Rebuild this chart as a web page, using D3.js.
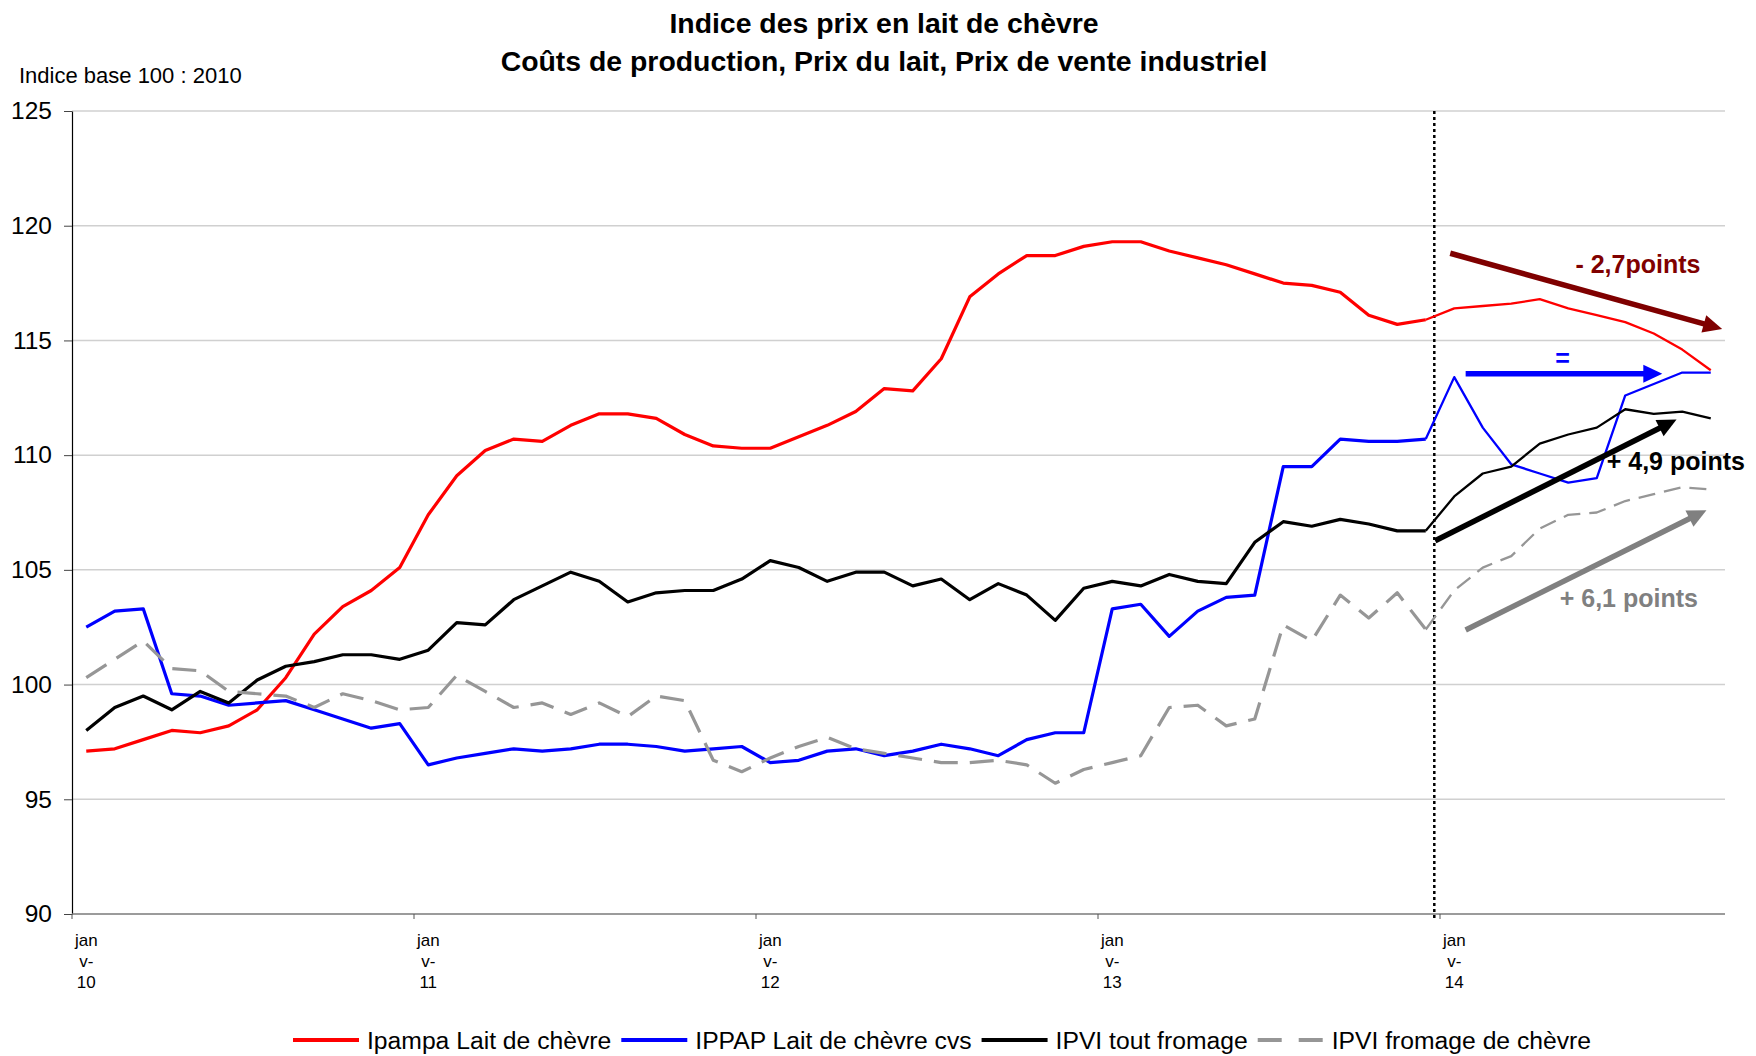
<!DOCTYPE html>
<html>
<head>
<meta charset="utf-8">
<script src="https://cdn.jsdelivr.net/npm/d3@7"></script>
<style>
  body { margin: 0; background: #fff; }
  svg { font-family: Arial, "Liberation Sans", sans-serif; }
</style>
</head>
<body>
<svg id="chart"></svg>
<script>
const svgWidth = 1756;
const svgHeight = 1056;

// months jan 2010 -> oct 2014
const moisAbr = ["janv", "févr", "mars", "avr", "mai", "juin", "juil", "août", "sept", "oct", "nov", "déc"];
const annees = ["10", "11", "12", "13", "14"];
const categories = [];
annees.forEach(a => moisAbr.forEach(m => categories.push(m + "-" + a)));
categories.splice(58);

const tickLabels = ["janv-10", "janv-11", "janv-12", "janv-13", "janv-14"];
const yTicks = [90, 95, 100, 105, 110, 115, 120, 125];

const ipampa = [97.1, 97.2, 97.6, 98.0, 97.9, 98.2, 98.9, 100.3, 102.2, 103.4, 104.1, 105.1,
  107.4, 109.1, 110.2, 110.7, 110.6, 111.3, 111.8, 111.8, 111.6, 110.9, 110.4, 110.3,
  110.3, 110.8, 111.3, 111.9, 112.9, 112.8, 114.2, 116.9, 117.9, 118.7, 118.7, 119.1,
  119.3, 119.3, 118.9, 118.6, 118.3, 117.9, 117.5, 117.4, 117.1, 116.1, 115.7, 115.9,
  116.4, 116.5, 116.6, 116.8, 116.4, 116.1, 115.8, 115.3, 114.6, 113.7];

const ippap = [102.5, 103.2, 103.3, 99.6, 99.5, 99.1, 99.2, 99.3, 98.9, 98.5, 98.1, 98.3,
  96.5, 96.8, 97.0, 97.2, 97.1, 97.2, 97.4, 97.4, 97.3, 97.1, 97.2, 97.3,
  96.6, 96.7, 97.1, 97.2, 96.9, 97.1, 97.4, 97.2, 96.9, 97.6, 97.9, 97.9,
  103.3, 103.5, 102.1, 103.2, 103.8, 103.9, 109.5, 109.5, 110.7, 110.6, 110.6, 110.7,
  113.4, 111.2, 109.6, 109.2, 108.8, 109.0, 112.6, 113.1, 113.6, 113.6];

const ipviTout = [98.0, 99.0, 99.5, 98.9, 99.7, 99.2, 100.2, 100.8, 101.0, 101.3, 101.3, 101.1,
  101.5, 102.7, 102.6, 103.7, 104.3, 104.9, 104.5, 103.6, 104.0, 104.1, 104.1, 104.6,
  105.4, 105.1, 104.5, 104.9, 104.9, 104.3, 104.6, 103.7, 104.4, 103.9, 102.8, 104.2,
  104.5, 104.3, 104.8, 104.5, 104.4, 106.2, 107.1, 106.9, 107.2, 107.0, 106.7, 106.7,
  108.2, 109.2, 109.5, 110.5, 110.9, 111.2, 112.0, 111.8, 111.9, 111.6];

const ipviChevre = [100.3, 101.1, 101.9, 100.7, 100.6, 99.7, 99.6, 99.5, 99.0, 99.6, 99.3, 98.9,
  99.0, 100.4, 99.7, 99.0, 99.2, 98.7, 99.2, 98.6, 99.5, 99.3, 96.7, 96.2,
  96.8, 97.3, 97.7, 97.2, 97.0, 96.8, 96.6, 96.6, 96.7, 96.5, 95.7, 96.3,
  96.6, 96.9, 99.0, 99.1, 98.2, 98.5, 102.6, 101.9, 103.9, 102.9, 104.0, 102.4,
  104.1, 105.1, 105.6, 106.8, 107.4, 107.5, 108.0, 108.3, 108.6, 108.5];

const seriesNames = ["Ipampa Lait de chèvre", "IPPAP Lait de chèvre cvs", "IPVI tout fromage", "IPVI fromage de chèvre"];
const seriesColors = ["#ff0000", "#0000ff", "#000000", "#969696"];
const seriesValues = [ipampa, ippap, ipviTout, ipviChevre];

// annotations : [index start, value start, index end, value end]
const annotArrows = [
  { from: [47.86, 118.8], to: [57.4, 115.5], color: "#7f0000" },
  { from: [48.4, 113.55], to: [55.3, 113.55], color: "#0000ff" },
  { from: [47.33, 106.27], to: [55.8, 111.55], color: "#000000" },
  { from: [48.4, 102.38], to: [56.85, 107.6], color: "#808080" }
];
const annotTexts = [
  { text: "- 2,7points", at: [52.25, 117.94], color: "#800000" },
  { text: "=", at: [51.8, 113.85], color: "#0000ff", anchor: "middle" },
  { text: "+ 4,9 points", at: [53.35, 109.35], color: "#000000" },
  { text: "+ 6,1 points", at: [51.7, 103.4], color: "#808080" }
];

const margin = { top: 111, left: 72, right: 31, bottom: 142 };
const plotW = svgWidth - margin.left - margin.right;
const plotH = svgHeight - margin.top - margin.bottom;

const svg = d3.select("#chart")
  .attr("width", svgWidth)
  .attr("height", svgHeight);

const x = d3.scaleLinear().domain([-0.5, categories.length - 0.5]).range([margin.left, margin.left + plotW]);
const y = d3.scaleLinear().domain([90, 125]).range([margin.top + plotH, margin.top]);

// titles
svg.append("text")
  .attr("x", 884).attr("y", 33)
  .attr("text-anchor", "middle")
  .attr("font-size", 28.4).attr("font-weight", "bold")
  .text("Indice des prix en lait de chèvre");
svg.append("text")
  .attr("x", 884).attr("y", 71)
  .attr("text-anchor", "middle")
  .attr("font-size", 28.4).attr("font-weight", "bold")
  .text("Coûts de production, Prix du lait, Prix de vente industriel");
svg.append("text")
  .attr("x", 19).attr("y", 83)
  .attr("font-size", 22)
  .text("Indice base 100 : 2010");

// gridlines
svg.append("g")
  .selectAll("line")
  .data(yTicks.filter(t => t > 90))
  .join("line")
  .attr("x1", margin.left).attr("x2", margin.left + plotW)
  .attr("y1", d => y(d)).attr("y2", d => y(d))
  .attr("stroke", "#d0d0d0")
  .attr("stroke-width", 1.5);

// y axis
const yAxis = svg.append("g")
  .attr("transform", `translate(${margin.left},0)`)
  .call(d3.axisLeft(y).tickValues(yTicks).tickSize(8).tickPadding(12).tickSizeOuter(0));
yAxis.select(".domain").attr("stroke", "#000").attr("stroke-width", 1.2);
yAxis.selectAll(".tick line").attr("stroke", "#444");
yAxis.selectAll(".tick text")
  .attr("font-size", 24.5)
  .attr("font-family", "Arial, 'Liberation Sans', sans-serif")
  .attr("fill", "#000");

// x axis
const xAxis = svg.append("g")
  .attr("transform", `translate(0,${margin.top + plotH})`);
xAxis.append("line")
  .attr("x1", margin.left).attr("x2", margin.left + plotW)
  .attr("stroke", "#7a7a7a").attr("stroke-width", 1.6);
xAxis.selectAll(".tk")
  .data(tickLabels)
  .join("line")
  .attr("class", "tk")
  .attr("x1", d => x(categories.indexOf(d) - 0.5))
  .attr("x2", d => x(categories.indexOf(d) - 0.5))
  .attr("y1", 0).attr("y2", 5)
  .attr("stroke", "#555");
const xl = xAxis.selectAll(".lbl")
  .data(tickLabels)
  .join("text")
  .attr("class", "lbl")
  .attr("text-anchor", "middle")
  .attr("font-size", 17)
  .attr("transform", d => `translate(${x(categories.indexOf(d))},0)`);
xl.each(function(d) {
  const parts = [d.slice(0, 3), d.slice(3, 5), d.slice(5)];
  d3.select(this).selectAll("tspan")
    .data(parts)
    .join("tspan")
    .attr("x", 0)
    .attr("y", (p, i) => 32 + i * 21)
    .text(p => p);
});

// dotted separator
svg.append("line")
  .attr("x1", x(47.3)).attr("x2", x(47.3))
  .attr("y1", margin.top).attr("y2", margin.top + plotH + 4)
  .attr("stroke", "#000")
  .attr("stroke-width", 2.5)
  .attr("stroke-dasharray", "3,3");

// series lines (thinner after jan 14)
const line = d3.line()
  .x(d => x(d.i))
  .y(d => y(d.v));

seriesValues.forEach((vals, s) => {
  const pts = vals.map((v, i) => ({ i: i, v: v }));
  const dashed = s === 3;
  svg.append("path")
    .datum(pts.slice(0, 48))
    .attr("d", line)
    .attr("fill", "none")
    .attr("stroke", seriesColors[s])
    .attr("stroke-width", 3.2)
    .attr("stroke-linejoin", "round")
    .attr("stroke-dasharray", dashed ? "24,12" : null);
  svg.append("path")
    .datum(pts.slice(47))
    .attr("d", line)
    .attr("fill", "none")
    .attr("stroke", seriesColors[s])
    .attr("stroke-width", 2.3)
    .attr("stroke-linejoin", "round")
    .attr("stroke-dasharray", dashed ? "17,9" : null);
});

// arrows
annotArrows.forEach(a => {
  const x1 = x(a.from[0]), y1 = y(a.from[1]);
  const x2 = x(a.to[0]), y2 = y(a.to[1]);
  const len = Math.hypot(x2 - x1, y2 - y1);
  const ux = (x2 - x1) / len, uy = (y2 - y1) / len;
  const head = 19, half = 9;
  const bx = x2 - ux * head, by = y2 - uy * head;
  svg.append("line")
    .attr("x1", x1).attr("y1", y1)
    .attr("x2", bx + ux * 2).attr("y2", by + uy * 2)
    .attr("stroke", a.color)
    .attr("stroke-width", 5.5);
  svg.append("polygon")
    .attr("points", [[x2, y2], [bx - uy * half, by + ux * half], [bx + uy * half, by - ux * half]].map(p => p.join(",")).join(" "))
    .attr("fill", a.color);
});

annotTexts.forEach(t => {
  svg.append("text")
    .attr("x", x(t.at[0])).attr("y", y(t.at[1]))
    .attr("text-anchor", t.anchor || "start")
    .attr("font-size", 25)
    .attr("font-weight", "bold")
    .attr("fill", t.color)
    .text(t.text);
});

// legend
const legend = svg.append("g").attr("transform", "translate(293,1040)");
let lx = 0;
seriesNames.forEach((name, s) => {
  legend.append("line")
    .attr("x1", lx).attr("x2", lx + 66)
    .attr("stroke", seriesColors[s])
    .attr("stroke-width", 4)
    .attr("stroke-dasharray", s === 3 ? "24,17" : null);
  const t = legend.append("text")
    .attr("x", lx + 74).attr("y", 8.5)
    .attr("font-size", 24.7)
    .text(name);
  lx += 74 + t.node().getComputedTextLength() + 10;
});
</script>
</body>
</html>
